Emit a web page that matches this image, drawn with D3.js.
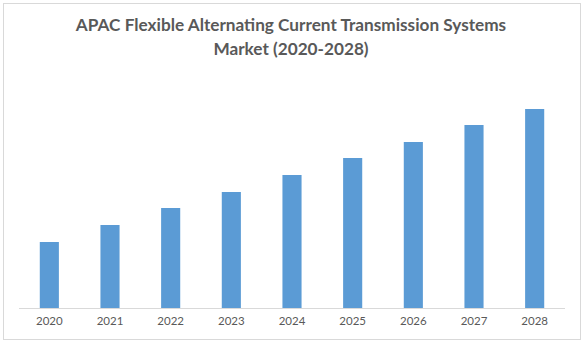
<!DOCTYPE html>
<html><head><meta charset="utf-8">
<script src="https://cdn.jsdelivr.net/npm/d3@7"></script>
<style>body{margin:0;background:#fff}</style>
</head><body>
<script>
const categories = ["2020","2021","2022","2023","2024","2025","2026","2027","2028"];
const values = [3.3, 4.15, 5.0, 5.8, 6.65, 7.5, 8.3, 9.15, 9.95];
const titleLines = ["APAC Flexible Alternating Current Transmission Systems", "Market (2020-2028)"];

const W = 588, H = 345;
const svg = d3.select("body").append("svg").attr("width", W).attr("height", H);
svg.append("rect").attr("x", 3.5).attr("y", 3.5).attr("width", 577).attr("height", 336)
  .attr("fill", "#fff").attr("stroke", "#d9d9d9").attr("stroke-width", 1);

const x = d3.scaleBand().domain(categories).range([19, 565]).paddingInner(0.685).paddingOuter(0.3425);
const y = d3.scaleLinear().domain([0, 10]).range([308, 108]);

svg.append("g").selectAll("rect").data(categories).join("rect")
  .attr("x", d => x(d)).attr("width", x.bandwidth())
  .attr("y", (d, i) => y(values[i])).attr("height", (d, i) => y(0) - y(values[i]))
  .attr("fill", "#5b9bd5");

const axis = d3.axisBottom(x).tickSize(0).tickPadding(9);
const g = svg.append("g").attr("transform", "translate(0,308)").call(axis);
g.select(".domain").attr("stroke", "#d9d9d9").attr("d", "M19,0.5H565");
g.selectAll("text").attr("font-family", "Lato, 'Open Sans', sans-serif").attr("font-size", 11.5).attr("fill", "#595959");

svg.append("g").selectAll("text").data(titleLines).join("text")
  .attr("x", 291).attr("y", (d, i) => 31 + i * 24)
  .attr("text-anchor", "middle").attr("font-family", "Lato, 'Open Sans', sans-serif")
  .attr("font-weight", "bold").attr("font-size", 17.2).attr("fill", "#595959")
  .text(d => d);
</script>
</body></html>
